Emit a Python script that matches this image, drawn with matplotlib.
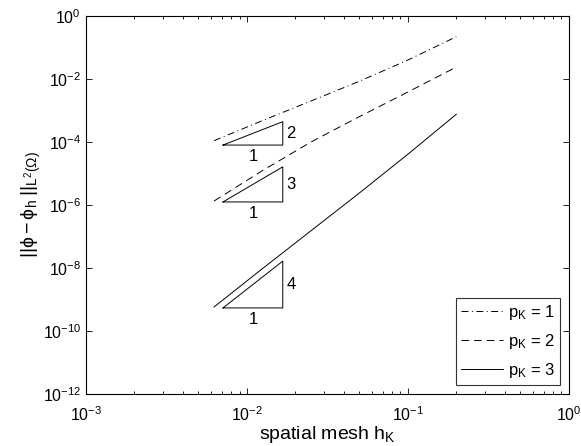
#!/usr/bin/env python3
"""L2 error vs spatial mesh size, log-log with slope triangles."""

import matplotlib
matplotlib.use("Agg")
import matplotlib.pyplot as plt
import numpy as np

plt.rcParams['font.family'] = ['Liberation Sans', 'DejaVu Sans']
plt.rcParams['font.size'] = 11
plt.rcParams['mathtext.fontset'] = 'custom'
plt.rcParams['mathtext.rm'] = 'Liberation Sans'
plt.rcParams['mathtext.it'] = 'Liberation Sans'
plt.rcParams['mathtext.bf'] = 'Liberation Sans'
plt.rcParams['lines.scale_dashes'] = False

# mesh sizes
h = [0.00625, 0.0125, 0.025, 0.05, 0.1, 0.2]

# errors
err_p1 = [1.1e-4, 4.8e-4, 2.0e-3, 8.5e-3, 4.0e-2, 0.22]
err_p2 = [1.34e-6, 1.24e-5, 1.0e-4, 6.4e-4, 3.86e-3, 2.4e-2]
err_p3 = [5.8e-10, 9.6e-9, 1.52e-7, 2.41e-6, 4.09e-5, 7.6e-4]
labels = ['$\\mathregular{p_K}$ = 1', '$\\mathregular{p_K}$ = 2',
          '$\\mathregular{p_K}$ = 3']

# slope triangles
tri_x = [0.0071, 0.0167]
tri_base = [8.0e-5, 1.25e-6, 5.4e-10]
tri_order = [2, 3, 4]

fig = plt.figure(figsize=(5.81, 4.46), dpi=100)
ax = fig.add_axes([0.148, 0.1166, 0.831, 0.8475])

ax.loglog(h, err_p1, color='k', lw=0.7, dashes=[5.0, 2.5, 0.7, 2.5], label=labels[0])
ax.loglog(h, err_p2, color='k', lw=0.7, dashes=[5.5, 3.6], label=labels[1])
ax.loglog(h, err_p3, color='k', lw=0.7, ls='-', label=labels[2])

for y0, p in zip(tri_base, tri_order):
    x0, x1 = tri_x
    y1 = y0 * (x1 / x0) ** p
    ax.plot([x0, x1, x1, x0], [y0, y0, y1, y0], color='k', lw=0.7)
    ax.text(x1 * 1.05, np.sqrt(y0 * y1), str(p), ha='left', va='center', fontsize=12)
    ax.text(np.sqrt(x0 * x1), y0 / 1.3, '1', ha='center', va='top', fontsize=12)

ax.set_xlim(1e-3, 1)
ax.set_ylim(1e-12, 1)
ax.set_yticks([1e-12, 1e-10, 1e-8, 1e-6, 1e-4, 1e-2, 1e0])
ax.yaxis.set_minor_locator(matplotlib.ticker.NullLocator())
ax.tick_params(which='both', direction='in', top=True, right=True, labelsize=11.5)
ax.tick_params(axis='x', pad=8)
ax.tick_params(which='major', length=4, width=0.6)
ax.tick_params(which='minor', length=2, width=0.6)
for s in ax.spines.values():
    s.set_linewidth(0.8)

ax.set_xlabel('spatial mesh h$_\\mathregular{K}$', fontsize=14, labelpad=0)
ax.set_ylabel('$\\mathregular{||\\phi - \\phi_h\\;||_{L^2(\\Omega)}}$', fontsize=14,
              labelpad=0)

leg = ax.legend(loc='lower right', fancybox=False, edgecolor='k', fontsize=12,
                borderaxespad=0.55, handlelength=2.5, handletextpad=0.3,
                labelspacing=0.6, borderpad=0.3)
leg.get_frame().set_linewidth(0.8)

fig.savefig('out.png', dpi=100)
